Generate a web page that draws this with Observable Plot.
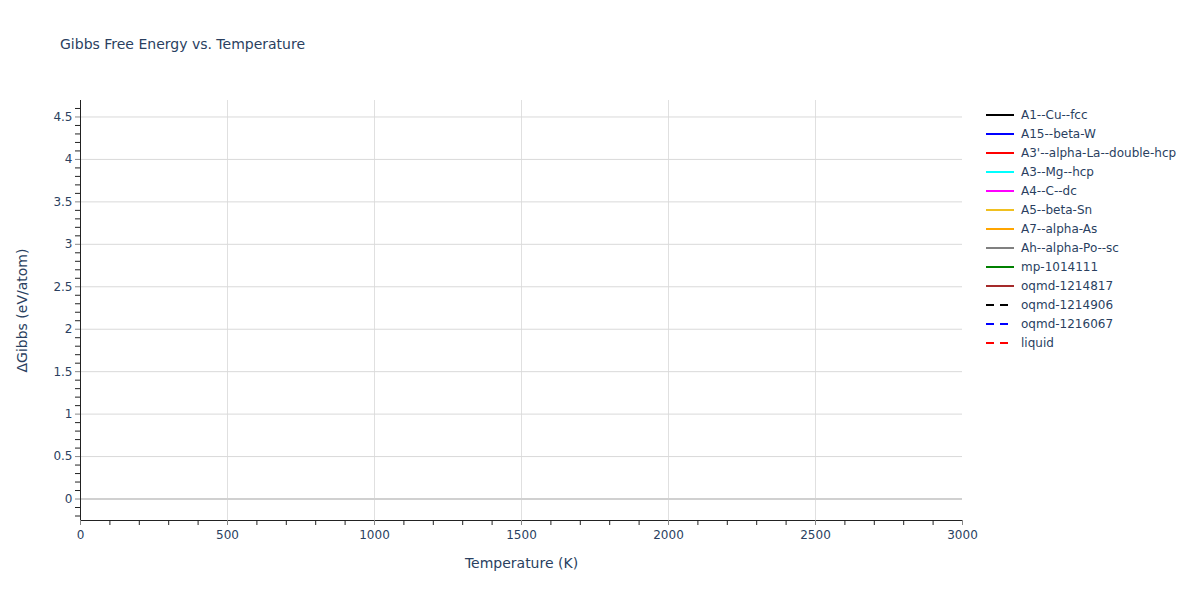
<!DOCTYPE html>
<html>
<head>
<meta charset="utf-8">
<script src="https://cdn.jsdelivr.net/npm/d3@7"></script>
<script src="https://cdn.jsdelivr.net/npm/@observablehq/plot@0.6"></script>
<style>
  body { margin: 0; background: #fff; font-family: "DejaVu Sans", sans-serif; }
  #wrap { position: relative; width: 1200px; height: 600px; }
  #title { position: absolute; left: 60px; top: 36px; font-size: 14px; color: #2a3f5f; }
  #legend { position: absolute; left: 985px; top: 105px; font-size: 12px; color: #2a3f5f; }
  .row { height: 19px; display: flex; align-items: center; }
  .row svg { margin-right: 6px; }
  #chart { position: absolute; left: 0; top: 0; }
</style>
</head>
<body>
<div id="wrap">
  <div id="chart"></div>
  <div id="title">Gibbs Free Energy vs. Temperature</div>
  <div id="legend"></div>
</div>
<script>
// Series (no visible data points in the reference)
const seriesNames = ["A1--Cu--fcc","A15--beta-W","A3'--alpha-La--double-hcp","A3--Mg--hcp","A4--C--dc","A5--beta-Sn","A7--alpha-As","Ah--alpha-Po--sc","mp-1014111","oqmd-1214817","oqmd-1214906","oqmd-1216067","liquid"];
const seriesColors = ["black","blue","red","cyan","magenta","#f0c020","orange","gray","green","brown","black","blue","red"];
const seriesDashed = [false,false,false,false,false,false,false,false,false,false,true,true,true];

const xDomain = [0, 3000];
const yDomain = [-0.253, 4.694];
const xTicks = [0, 500, 1000, 1500, 2000, 2500, 3000];
const yTicks = [0, 0.5, 1, 1.5, 2, 2.5, 3, 3.5, 4, 4.5];
const xMinor = d3.range(0, 3001, 100).filter(v => v % 500 !== 0);
const yMinor = d3.range(-2, 47, 1).map(v => v / 10).filter(v => Math.round(v * 10) % 5 !== 0);

const ink = "#2a3f5f";
const chart = Plot.plot({
  width: 1200,
  height: 600,
  marginLeft: 80,
  marginRight: 238,
  marginTop: 100,
  marginBottom: 80,
  style: { fontFamily: "'DejaVu Sans', sans-serif", fontSize: "12px", color: ink, background: "white" },
  x: { domain: xDomain },
  y: { domain: yDomain },
  marks: [
    Plot.gridX(xTicks.slice(1, -1), { stroke: "#e0e0e0", strokeOpacity: 1, strokeWidth: 1 }),
    Plot.gridY(yTicks.slice(1), { stroke: "#d9d9d9", strokeOpacity: 1, strokeWidth: 1 }),
    Plot.ruleY([0], { stroke: "#d0d0d0", strokeWidth: 2 }),
    Plot.ruleX([xDomain[0]], { stroke: "#222", strokeWidth: 1 }),
    Plot.ruleY([yDomain[0]], { stroke: "#222", strokeWidth: 1 }),
    Plot.axisX(xMinor, { tickSize: 5, text: null, stroke: "#222", label: null }),
    Plot.axisY(yMinor, { tickSize: 5, text: null, stroke: "#222", label: null }),
    Plot.axisX(xTicks, { tickSize: 5, tickPadding: 5, stroke: "#888", fill: ink, fontSize: 12, tickFormat: d => String(d), label: null }),
    Plot.axisY(yTicks, { tickSize: 5, tickPadding: 3, stroke: "#888", fill: ink, fontSize: 12, tickFormat: d => String(d), label: null }),
    Plot.text(["Temperature (K)"], { frameAnchor: "bottom", dy: 47, fill: ink, fontSize: 14 }),
    Plot.text(["ΔGibbs (eV/atom)"], { frameAnchor: "left", dx: -58, rotate: -90, textAnchor: "middle", fill: ink, fontSize: 14 })
  ]
});
document.getElementById("chart").appendChild(chart);

const legend = document.getElementById("legend");
seriesNames.forEach((name, i) => {
  const row = document.createElement("div");
  row.className = "row";
  const dash = seriesDashed[i] ? 'stroke-dasharray="8,6"' : "";
  row.innerHTML = `<svg width="30" height="4"><line x1="1" y1="2" x2="29" y2="2" stroke="${seriesColors[i]}" stroke-width="2" ${dash}/></svg><span>${name}</span>`;
  legend.appendChild(row);
});
</script>
</body>
</html>
